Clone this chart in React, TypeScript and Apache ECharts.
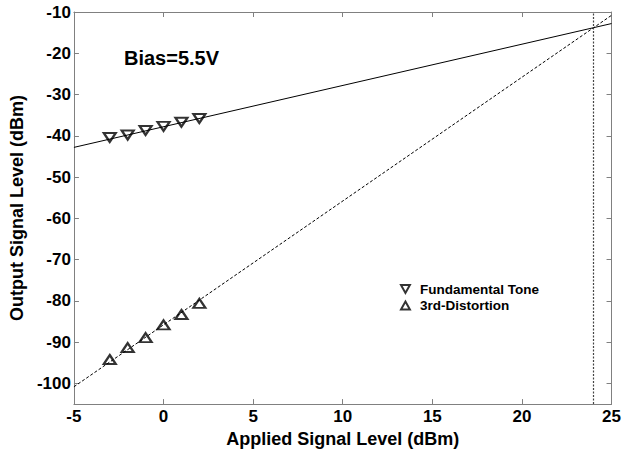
import React, { useEffect, useRef } from "react";
import * as echarts from "echarts";

const inputLevels = [-3, -2, -1, 0, 1, 2];
const fundamentalValues = [-40.4, -39.8, -38.7, -37.7, -36.7, -35.8];
const distortionValues = [-94.2, -91.3, -88.9, -85.8, -83.3, -80.6];
const fundamentalFitX = [-5, 25];
const fundamentalFitY = [-42.8, -12.8];
const distortionFitX = [-5, 25];
const distortionFitY = [-100.8, -10.8];
const interceptX = 24.0;
const xTicks = [-5, 0, 5, 10, 15, 20, 25];
const yTicks = [-100, -90, -80, -70, -60, -50, -40, -30, -20, -10];

const FONT = "Liberation Sans, Arial, sans-serif";

export default function App() {
  const ref = useRef<HTMLDivElement>(null);
  useEffect(() => {
    if (!ref.current) return;
    const chart = echarts.init(ref.current, null, { renderer: "svg" });
    const axisColor = "#808080";
    const baseX = {
      type: "value",
      min: -5,
      max: 25,
      axisLine: { show: true, onZero: false, lineStyle: { color: axisColor, width: 1 } },
      splitLine: { show: false },
    };
    const baseY = {
      type: "value",
      min: -105,
      max: -10,
      axisLine: { show: true, onZero: false, lineStyle: { color: axisColor, width: 1 } },
      splitLine: { show: false },
    };
    const labelStyle = { fontFamily: FONT, fontWeight: "bold", fontSize: 17, color: "#000" };
    const titleStyle = { fontFamily: FONT, fontWeight: "bold", fontSize: 18, color: "#000" };
    const tick = { show: true, inside: true, length: 5, lineStyle: { color: axisColor } };
    chart.setOption({
      animation: false,
      backgroundColor: "#ffffff",
      grid: { left: 72, right: 10, top: 12, bottom: 42 },
      xAxis: [
        {
          ...baseX,
          position: "bottom",
          name: "Applied Signal Level (dBm)",
          nameLocation: "middle",
          nameGap: 21,
          nameTextStyle: titleStyle,
          axisTick: { ...tick, customValues: xTicks },
          axisLabel: { show: true, customValues: xTicks, margin: 4, ...labelStyle },
        },
        {
          ...baseX,
          position: "top",
          axisTick: { ...tick, customValues: xTicks },
          axisLabel: { show: false },
        },
      ],
      yAxis: [
        {
          ...baseY,
          position: "left",
          name: "Output Signal Level (dBm)",
          nameLocation: "middle",
          nameGap: 44,
          nameTextStyle: titleStyle,
          axisTick: { ...tick, customValues: yTicks },
          axisLabel: { show: true, customValues: yTicks, margin: 3, ...labelStyle },
        },
        {
          ...baseY,
          position: "right",
          axisTick: { ...tick, customValues: yTicks },
          axisLabel: { show: false },
        },
      ],
      legend: {
        orient: "vertical",
        left: 400,
        top: 282,
        padding: 0,
        itemGap: 2.5,
        itemWidth: 9,
        itemHeight: 8,
        itemStyle: { color: "#fff", borderColor: "#000", borderWidth: 2 },
        data: [
          { name: "Fundamental Tone", icon: "path://M0,0L10,0L5,9Z" },
          { name: "3rd-Distortion", icon: "path://M5,0L10,9L0,9Z" },
        ],
        textStyle: {
          fontFamily: FONT,
          fontWeight: "bold",
          fontSize: 13.5,
          lineHeight: 13.5,
          color: "#000",
          padding: [0, 0, 0, 5],
        },
      },
      graphic: [
        {
          type: "text",
          left: 124,
          top: 48,
          style: { text: "Bias=5.5V", fontFamily: FONT, fontWeight: "bold", fontSize: 20, fill: "#000" },
        },
      ],
      series: [
        {
          name: "fundFit",
          type: "line",
          data: fundamentalFitX.map((x, i) => [x, fundamentalFitY[i]]),
          showSymbol: false,
          symbol: "none",
          lineStyle: { color: "#000", width: 1 },
          silent: true,
        },
        {
          name: "distFit",
          type: "line",
          data: distortionFitX.map((x, i) => [x, distortionFitY[i]]),
          showSymbol: false,
          symbol: "none",
          lineStyle: { color: "#000", width: 1, type: [3, 2] },
          silent: true,
          markLine: {
            silent: true,
            symbol: "none",
            label: { show: false },
            lineStyle: { color: "#444", width: 1.2, type: [2, 1.5] },
            data: [{ xAxis: interceptX }],
          },
        },
        {
          name: "Fundamental Tone",
          type: "scatter",
          data: inputLevels.map((x, i) => [x, fundamentalValues[i]]),
          symbol: "triangle",
          symbolRotate: 180,
          symbolSize: [12, 9],
          itemStyle: { color: "#fff", borderColor: "#000", borderWidth: 2.2 },
        },
        {
          name: "3rd-Distortion",
          type: "scatter",
          data: inputLevels.map((x, i) => [x, distortionValues[i]]),
          symbol: "triangle",
          symbolSize: [12, 9],
          itemStyle: { color: "#fff", borderColor: "#000", borderWidth: 2.2 },
        },
      ],
    });
    return () => chart.dispose();
  }, []);
  return <div ref={ref} style={{ width: 624, height: 453, position: "absolute", left: 0, top: 0 }} />;
}
